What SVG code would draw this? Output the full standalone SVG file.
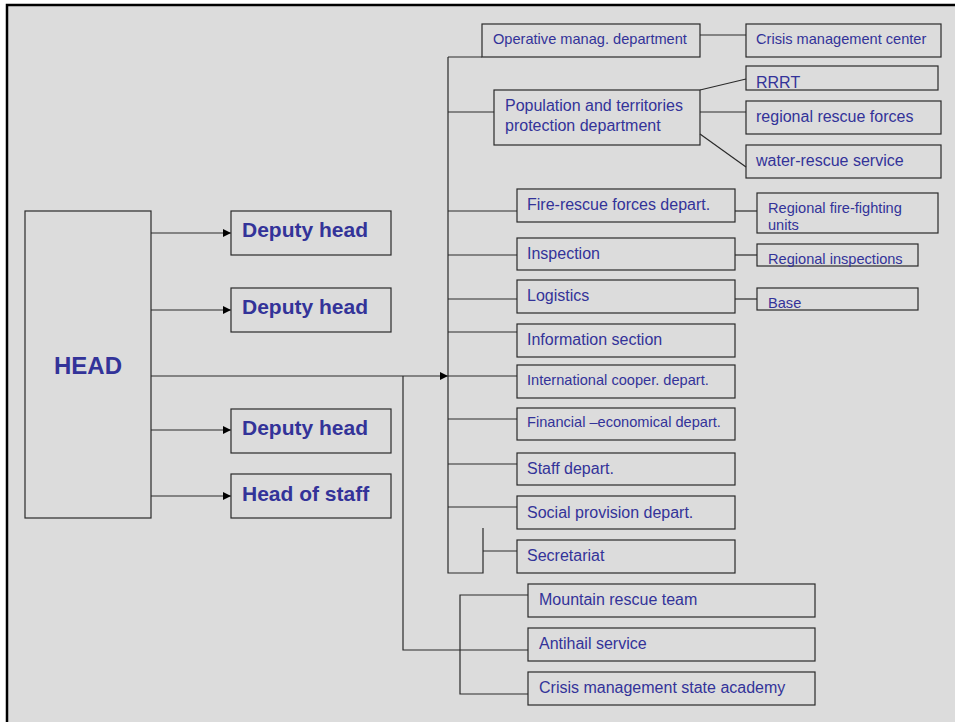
<svg xmlns="http://www.w3.org/2000/svg" width="955" height="722" viewBox="0 0 955 722">
<style>
.bx{fill:none;stroke:#2a2a2a;stroke-width:1.2}
.ln{fill:none;stroke:#2a2a2a;stroke-width:1.2}
.t{font-family:"Liberation Sans",Arial,sans-serif;fill:#333399}
.s{font-size:14.6px}
.m{font-size:16px}
.b{font-size:21px;font-weight:bold}
.h{font-size:24px;font-weight:bold}
</style>
<defs>
<marker id="ar" viewBox="0 0 10 10" refX="10" refY="5" markerWidth="8" markerHeight="8" markerUnits="userSpaceOnUse" orient="auto">
<path d="M0,0 L10,5 L0,10 Z" fill="#000"/>
</marker>
</defs>
<rect x="0" y="0" width="955" height="722" fill="#fff"/>
<rect x="7" y="5" width="948" height="717" fill="#dcdcdc"/>
<path d="M7,722 V5 H955" fill="none" stroke="#000" stroke-width="2.5"/>

<g id="connectors">
<path class="ln" d="M151,233 H231" marker-end="url(#ar)"/>
<path class="ln" d="M151,310 H231" marker-end="url(#ar)"/>
<path class="ln" d="M151,430 H231" marker-end="url(#ar)"/>
<path class="ln" d="M151,496 H231" marker-end="url(#ar)"/>
<path class="ln" d="M151,376 H448" marker-end="url(#ar)"/>
<path class="ln" d="M403,376 V650 H528"/>
<path class="ln" d="M448,57 V573 H483 V528"/>
<path class="ln" d="M448,57 H482"/>
<path class="ln" d="M448,112 H494"/>
<path class="ln" d="M448,211 H517"/>
<path class="ln" d="M448,255 H517"/>
<path class="ln" d="M448,299 H517"/>
<path class="ln" d="M448,332 H517"/>
<path class="ln" d="M448,376 H517"/>
<path class="ln" d="M448,419 H517"/>
<path class="ln" d="M448,464 H517"/>
<path class="ln" d="M448,507 H517"/>
<path class="ln" d="M483,551 H517"/>
<path class="ln" d="M700,35 H746"/>
<path class="ln" d="M700,90 L746,79"/>
<path class="ln" d="M700,112 H746"/>
<path class="ln" d="M700,134 L746,167"/>
<path class="ln" d="M735,211 H757"/>
<path class="ln" d="M735,255 H757"/>
<path class="ln" d="M735,299 H757"/>
<path class="ln" d="M528,595 H460 V694 H528"/>
</g>

<g id="head"><rect class="bx" x="25" y="211" width="126" height="307"/><text class="t h" x="88" y="374" text-anchor="middle">HEAD</text></g>
<g id="deputy1"><rect class="bx" x="231" y="211" width="160" height="44"/><text class="t b" x="242" y="237">Deputy head</text></g>
<g id="deputy2"><rect class="bx" x="231" y="288" width="160" height="44"/><text class="t b" x="242" y="314">Deputy head</text></g>
<g id="deputy3"><rect class="bx" x="231" y="409" width="160" height="44"/><text class="t b" x="242" y="435">Deputy head</text></g>
<g id="headofstaff"><rect class="bx" x="231" y="474" width="160" height="44"/><text class="t b" x="242" y="501">Head of staff</text></g>

<g id="operative"><rect class="bx" x="482" y="24" width="218" height="33"/><text class="t s" x="493" y="44">Operative manag. department</text></g>
<g id="crisiscenter"><rect class="bx" x="746" y="24" width="195" height="33"/><text class="t s" x="756" y="44">Crisis management center</text></g>
<g id="population"><rect class="bx" x="494" y="90" width="206" height="55"/><text class="t m" x="505" y="111">Population and territories</text><text class="t m" x="505" y="131">protection department</text></g>
<g id="rrrt"><rect class="bx" x="746" y="66" width="192" height="24"/><text class="t m" x="756" y="88">RRRT</text></g>
<g id="regrescue"><rect class="bx" x="746" y="101" width="195" height="33"/><text class="t m" x="756" y="122">regional rescue forces</text></g>
<g id="waterrescue"><rect class="bx" x="746" y="145" width="195" height="33"/><text class="t m" x="756" y="166">water-rescue service</text></g>
<g id="firerescue"><rect class="bx" x="517" y="189" width="218" height="33"/><text class="t m" x="527" y="210">Fire-rescue forces depart.</text></g>
<g id="regfire"><rect class="bx" x="757" y="193" width="181" height="40"/><text class="t s" x="768" y="213">Regional fire-fighting</text><text class="t s" x="768" y="230">units</text></g>
<g id="inspection"><rect class="bx" x="517" y="238" width="218" height="32"/><text class="t m" x="527" y="259">Inspection</text></g>
<g id="reginspections"><rect class="bx" x="757" y="244" width="161" height="22"/><text class="t s" x="768" y="264">Regional inspections</text></g>
<g id="logistics"><rect class="bx" x="517" y="280" width="218" height="33"/><text class="t m" x="527" y="301">Logistics</text></g>
<g id="base"><rect class="bx" x="757" y="288" width="161" height="22"/><text class="t s" x="768" y="308">Base</text></g>
<g id="information"><rect class="bx" x="517" y="324" width="218" height="33"/><text class="t m" x="527" y="345">Information section</text></g>
<g id="international"><rect class="bx" x="517" y="365" width="218" height="33"/><text class="t s" x="527" y="385">International cooper. depart.</text></g>
<g id="financial"><rect class="bx" x="517" y="408" width="218" height="32"/><text class="t s" x="527" y="427">Financial –economical depart.</text></g>
<g id="staff"><rect class="bx" x="517" y="453" width="218" height="32"/><text class="t m" x="527" y="474">Staff depart.</text></g>
<g id="social"><rect class="bx" x="517" y="496" width="218" height="33"/><text class="t m" x="527" y="518">Social provision depart.</text></g>
<g id="secretariat"><rect class="bx" x="517" y="540" width="218" height="33"/><text class="t m" x="527" y="561">Secretariat</text></g>
<g id="mountain"><rect class="bx" x="528" y="584" width="287" height="33"/><text class="t m" x="539" y="605">Mountain rescue team</text></g>
<g id="antihail"><rect class="bx" x="528" y="628" width="287" height="33"/><text class="t m" x="539" y="649">Antihail service</text></g>
<g id="academy"><rect class="bx" x="528" y="672" width="287" height="33"/><text class="t m" x="539" y="693">Crisis management state academy</text></g>
</svg>
